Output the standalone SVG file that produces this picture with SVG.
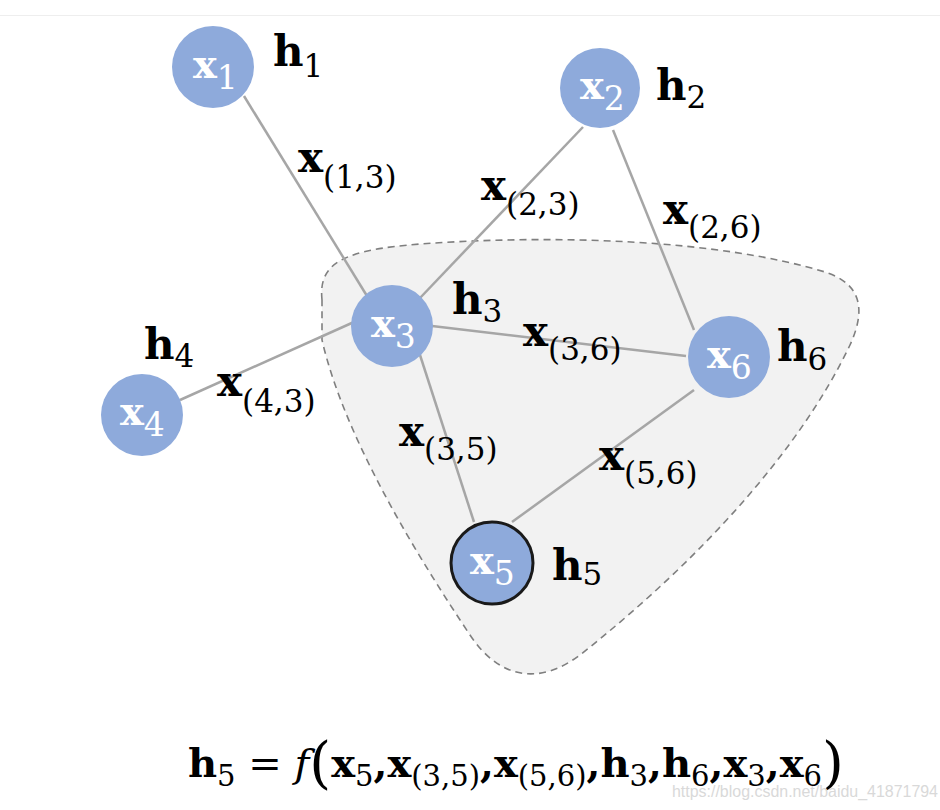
<svg xmlns="http://www.w3.org/2000/svg" width="940" height="810" viewBox="0 0 940 810">
<style>
.edge{stroke:#a6a6a6;stroke-width:2.5;fill:none}
.node{fill:#8eaadb}
.b{font-family:"DejaVu Serif",serif;font-weight:bold;font-size:42px;fill:#000}
.s{font-family:"DejaVu Serif",serif;font-weight:normal;font-size:31px}
.nb{font-family:"DejaVu Serif",serif;font-weight:bold;font-size:40px;fill:#fff}
.ns{font-family:"DejaVu Serif",serif;font-weight:normal;font-size:33px;fill:#fff}
.f{font-family:"DejaVu Serif",serif;font-weight:bold;font-size:40px;fill:#000}
.fs{font-weight:normal;font-size:29px}
</style>
<rect width="940" height="810" fill="#fff"/>
<line x1="0" y1="15.5" x2="940" y2="15.5" stroke="#eeeeee" stroke-width="1"/>
<path id="region" d="M322,300 C318,262 345,250 420,244 C560,234 720,240 825,272 C862,284 866,310 850,345 C800,450 700,560 580,655 C540,685 500,680 470,635 C420,560 345,440 322,340 Z" fill="#f2f2f2" stroke="#7f7f7f" stroke-width="1.6" stroke-dasharray="7,5"/>
<g id="connectors">
<line class="edge" x1="244" y1="96" x2="367" y2="296"/>
<line class="edge" x1="583" y1="127" x2="420" y2="298"/>
<line class="edge" x1="613" y1="130" x2="694" y2="330"/>
<line class="edge" x1="180" y1="400" x2="354" y2="322"/>
<line class="edge" x1="432" y1="326" x2="686" y2="356"/>
<line class="edge" x1="420" y1="355" x2="474" y2="522"/>
<line class="edge" x1="512" y1="522" x2="694" y2="390"/>
</g>
<g id="edge-labels">
<text class="b" x="298" y="172">x<tspan class="s" dy="16">(1,3)</tspan></text>
<text class="b" x="481" y="200">x<tspan class="s" dy="15">(2,3)</tspan></text>
<text class="b" x="663" y="224">x<tspan class="s" dy="14">(2,6)</tspan></text>
<text class="b" x="217" y="396">x<tspan class="s" dy="16">(4,3)</tspan></text>
<text class="b" x="523" y="346">x<tspan class="s" dy="14">(3,6)</tspan></text>
<text class="b" x="399" y="446">x<tspan class="s" dy="14">(3,5)</tspan></text>
<text class="b" x="599" y="470">x<tspan class="s" dy="14">(5,6)</tspan></text>
</g>
<g id="node1">
<circle class="node" cx="213" cy="67" r="41"/>
<text class="nb" x="193" y="78">x<tspan class="ns" dy="11">1</tspan></text>
<text class="b" x="273" y="66">h<tspan class="s" dy="11">1</tspan></text>
</g>
<g id="node2">
<circle class="node" cx="600" cy="88" r="40"/>
<text class="nb" x="580" y="99">x<tspan class="ns" dy="11">2</tspan></text>
<text class="b" x="656" y="100">h<tspan class="s" dy="8">2</tspan></text>
</g>
<g id="node3">
<circle class="node" cx="392" cy="326" r="41"/>
<text class="nb" x="371" y="337">x<tspan class="ns" dy="11">3</tspan></text>
<text class="b" x="452" y="314">h<tspan class="s" dy="8">3</tspan></text>
</g>
<g id="node4">
<circle class="node" cx="142" cy="415" r="41"/>
<text class="nb" x="120" y="425">x<tspan class="ns" dy="11">4</tspan></text>
<text class="b" x="144" y="359">h<tspan class="s" dy="8">4</tspan></text>
</g>
<g id="node6">
<circle class="node" cx="729" cy="357" r="41"/>
<text class="nb" x="707" y="368">x<tspan class="ns" dy="11">6</tspan></text>
<text class="b" x="777" y="361">h<tspan class="s" dy="9">6</tspan></text>
</g>
<g id="node5">
<circle class="node" cx="492" cy="563" r="41" stroke="#1a1a1a" stroke-width="3"/>
<text class="nb" x="470" y="574">x<tspan class="ns" dy="11">5</tspan></text>
<text class="b" x="552" y="580">h<tspan class="s" dy="5">5</tspan></text>
</g>
<g id="formula">
<text class="f" x="188" y="777">h<tspan class="fs" dy="9">5</tspan><tspan dy="-9" font-weight="normal"> = </tspan><tspan font-style="italic" font-weight="normal">f</tspan><tspan font-weight="normal" font-size="56" dy="5">(</tspan><tspan dy="-5">x</tspan><tspan class="fs" dy="9">5</tspan><tspan dy="-9">,x</tspan><tspan class="fs" dy="9">(3,5)</tspan><tspan dy="-9">,x</tspan><tspan class="fs" dy="9">(5,6)</tspan><tspan dy="-9">,h</tspan><tspan class="fs" dy="9">3</tspan><tspan dy="-9">,h</tspan><tspan class="fs" dy="9">6</tspan><tspan dy="-9">,x</tspan><tspan class="fs" dy="9">3</tspan><tspan dy="-9">,x</tspan><tspan class="fs" dy="9">6</tspan><tspan font-weight="normal" font-size="56" dy="-4">)</tspan></text>
</g>
<text x="672" y="797" font-family="Liberation Sans, sans-serif" font-size="16" fill="#d9d9d9" textLength="266" lengthAdjust="spacingAndGlyphs">https://blog.csdn.net/baidu_41871794</text>
</svg>
